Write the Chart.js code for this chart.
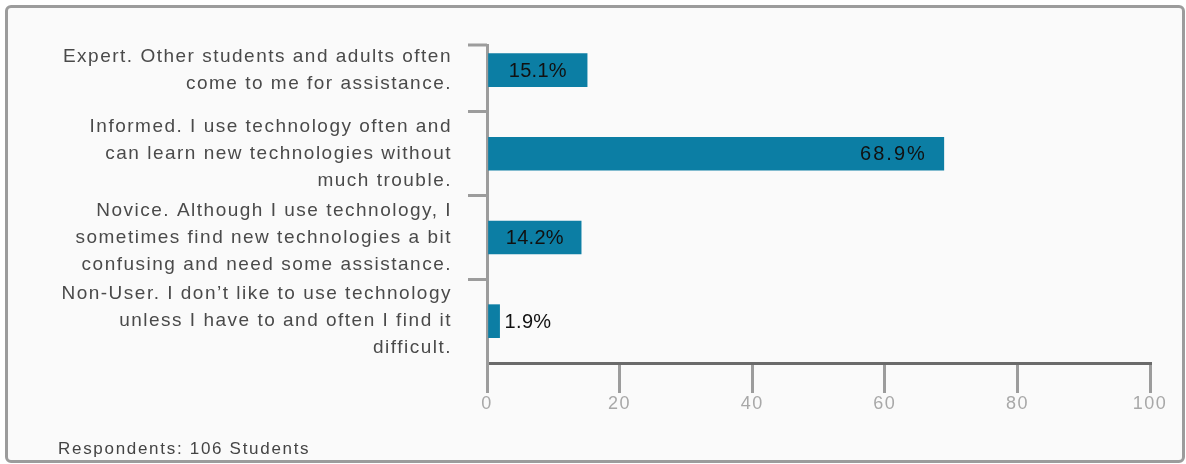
<!DOCTYPE html>
<html>
<head>
<meta charset="utf-8">
<script src="https://cdn.jsdelivr.net/npm/chart.js@4"></script>
<style>
  html, body { margin: 0; padding: 0; background: #fff; }
  body { width: 1186px; height: 464px; position: relative; overflow: hidden; font-family: "Liberation Sans", Arial, sans-serif; }
  .card { position: absolute; left: 5px; top: 5px; width: 1180px; height: 458px; box-sizing: border-box;
          border: 3px solid #9c9c9c; border-radius: 6px; background: #fafafa; }
  .wrap { position: absolute; left: 0; top: 0; width: 1186px; height: 464px; }
  .foot { position: absolute; left: 58px; top: 439px; font-size: 17px; line-height: 20px; letter-spacing: 1.7px; color: #444; }
</style>
</head>
<body>
<div class="card"></div>
<div class="wrap"><canvas id="chart"></canvas></div>
<div class="foot">Respondents: 106 Students</div>
<script>
// ─── Data ─────────────────────────────────────────────────────────
const CATEGORIES = [
  ['Expert. Other students and adults often', 'come to me for assistance.'],
  ['Informed. I use technology often and', 'can learn new technologies without', 'much trouble.'],
  ['Novice. Although I use technology, I', 'sometimes find new technologies a bit', 'confusing and need some assistance.'],
  ['Non-User. I don\u2019t like to use technology', 'unless I have to and often I find it', 'difficult.'],
];
const PERCENTS = [15.1, 68.9, 14.2, 1.9];
const X_TICKS  = [0, 20, 40, 60, 80, 100];

const FONT = '"Liberation Sans", Arial, sans-serif';
const BAR  = '#0c7ea4';

// letter spacing for all chart text (the original renders with wide tracking)
const spacing = {
  id: 'spacing',
  beforeUpdate(chart) { chart.ctx.letterSpacing = '1.5px'; },
  beforeDraw(chart)   { chart.ctx.letterSpacing = '1.5px'; },
};

// little cap tick at the top of the category axis
const topTick = {
  id: 'topTick',
  afterDraw(chart) {
    const s = chart.scales.y, ctx = chart.ctx;
    ctx.save();
    ctx.strokeStyle = '#9c9c9c';
    ctx.lineWidth = 3;
    ctx.beginPath();
    ctx.moveTo(s.right - 19, s.top);
    ctx.lineTo(s.right, s.top);
    ctx.stroke();
    ctx.restore();
  },
};

// percent labels: inside-right for long bars, centred for medium, outside for tiny
const valueLabels = {
  id: 'valueLabels',
  afterDatasetsDraw(chart) {
    const ctx = chart.ctx;
    const meta = chart.getDatasetMeta(0);
    ctx.save();
    ctx.font = '20px ' + FONT;
    ctx.fillStyle = '#111';
    ctx.textBaseline = 'middle';
    meta.data.forEach((bar, i) => {
      const txt = PERCENTS[i].toFixed(1) + '%';
      const w = bar.x - bar.base;
      ctx.letterSpacing = '0.3px';
      const tw = ctx.measureText(txt).width;
      if (w > tw + 80) {
        ctx.letterSpacing = '2px';
        ctx.textAlign = 'right';
        ctx.fillText(txt, bar.x - 17, bar.y + 1);
      } else if (w > tw + 8) {
        ctx.textAlign = 'center';
        ctx.fillText(txt, (bar.x + bar.base) / 2, bar.y + 1);
      } else {
        ctx.textAlign = 'left';
        ctx.fillText(txt, bar.x + 5, bar.y + 1);
      }
    });
    ctx.restore();
  },
};

new Chart(document.getElementById('chart'), {
  type: 'bar',
  data: {
    datasets: [{
      data: PERCENTS.map((v, i) => ({ x: v, y: i })),
      backgroundColor: BAR,
      borderWidth: 0,
      barThickness: 33,
    }],
  },
  plugins: [spacing, topTick, valueLabels],
  options: {
    indexAxis: 'y',
    responsive: true, maintainAspectRatio: false,
    animation: false,
    events: [],
    layout: { padding: { top: 45, right: 36, bottom: 43, left: 0 } },
    plugins: { legend: { display: false }, tooltip: { enabled: false } },
    scales: {
      x: {
        type: 'linear', min: 0, max: 100,
        afterFit: s => { s.height = 58; },
        afterBuildTicks: s => { s.ticks = X_TICKS.map(v => ({ value: v })); },
        grid: { drawOnChartArea: false, tickLength: 30, lineWidth: 3, color: '#9c9c9c' },
        border: { color: '#6a6a6a', width: 3 },
        ticks: { color: '#a8a8a8', padding: 0, font: { family: FONT, size: 18 } },
      },
      y: {
        type: 'linear', reverse: true, min: -0.3, max: 3.5, offset: false,
        afterFit: s => { s.width = 487; s.paddingTop = 0; s.paddingBottom = 0; },
        afterBuildTicks: s => { s.ticks = CATEGORIES.map((_, i) => ({ value: i })); },
        grid: {
          drawOnChartArea: false, offset: true, tickLength: 19, lineWidth: 3,
          // no separator below the last category (the x axis sits there)
          color: c => c.tick ? '#9c9c9c' : 'rgba(0,0,0,0)',
        },
        border: { color: '#9c9c9c', width: 3 },
        ticks: {
          color: '#4a4a4a', padding: 16, autoSkip: false,
          font: { family: FONT, size: 19, lineHeight: '27px' },
          callback: v => CATEGORIES[v],
        },
      },
    },
  },
});
</script>
</body>
</html>
